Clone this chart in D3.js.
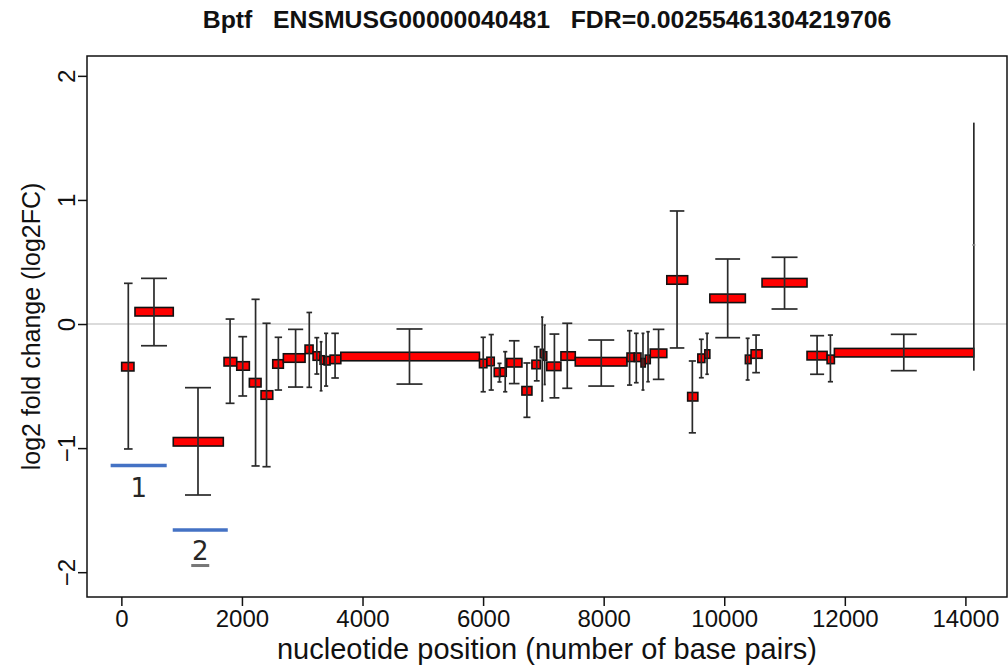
<!DOCTYPE html>
<html>
<head>
<meta charset="utf-8">
<script src="https://cdn.jsdelivr.net/npm/d3@7"></script>
<style>
body { margin: 0; background: #fff; }
text { font-family: "Liberation Sans", Arial, Helvetica, sans-serif; fill: #111; }
</style>
</head>
<body>
<svg id="chart" width="1008" height="666"></svg>
<script>
// exon counting bins: start / end (bp), position of the error bar, log2FC and its interval
var exonStart = [5, 226, 861, 1703, 1914, 2123, 2317, 2511, 2687, 3047, 3180, 3296, 3363, 3462, 3640,
  5940, 6063, 6185, 6284, 6392, 6644, 6810, 6948, 7006, 7056, 7291, 7529, 8387, 8508, 8619, 8690,
  8773, 9047, 9393, 9562, 9678, 9761, 10350, 10445, 10627, 11373, 11706, 11827, 14140];
var exonEnd = [209, 861, 1691, 1914, 2123, 2317, 2511, 2687, 3047, 3180, 3296, 3363, 3462, 3640, 5940,
  6063, 6185, 6284, 6384, 6644, 6810, 6948, 7006, 7056, 7291, 7529, 8387, 8508, 8619, 8690, 8773,
  9047, 9393, 9562, 9678, 9761, 10350, 10445, 10627, 11373, 11706, 11827, 14139, 14140];
var exonMid = [115, 541, 1271, 1803, 2013, 2226, 2408, 2604, 2890, 3117, 3242, 3313, 3396, 3545, 4779,
  6002, 6135, 6272, 6367, 6516, 6727, 6890, 6981, 7022, 7183, 7396, 7960, 8430, 8541, 8652, 8736,
  8911, 9217, 9471, 9620, 9715, 10057, 10388, 10528, 11000, 11540, 11761, 12978, 14140];
var log2fc = [-0.344, 0.099, -0.949, -0.304, -0.338, -0.473, -0.572, -0.322, -0.274, -0.204, -0.258,
  -0.290, -0.296, -0.285, -0.262, -0.318, -0.302, -0.389, -0.387, -0.312, -0.538, -0.326, -0.238,
  -0.258, -0.341, -0.258, -0.304, -0.268, -0.268, -0.312, -0.285, -0.236, 0.355, -0.586, -0.276,
  -0.242, 0.207, -0.285, -0.242, 0.333, -0.255, -0.285, -0.231, 0.637];
var ciHigh = [0.328, 0.368, -0.513, 0.040, -0.102, 0.199, 0.006, -0.107, -0.043, 0.093, -0.110,
  -0.143, -0.075, -0.075, -0.040, -0.107, -0.085, -0.317, -0.223, -0.135, -0.314, -0.183, 0.056,
  -0.008, -0.081, 0.006, -0.129, -0.054, -0.075, -0.075, -0.062, -0.043, 0.911, -0.298, -0.123,
  -0.075, 0.524, -0.115, -0.089, 0.538, -0.094, -0.089, -0.083, 1.623];
var ciLow = [-1.007, -0.175, -1.378, -0.639, -0.580, -1.144, -1.150, -0.532, -0.508, -0.510, -0.403,
  -0.538, -0.500, -0.435, -0.484, -0.546, -0.532, -0.467, -0.546, -0.480, -0.752, -0.458, -0.620,
  -0.488, -0.595, -0.518, -0.500, -0.492, -0.473, -0.532, -0.465, -0.446, -0.193, -0.877, -0.433,
  -0.405, -0.110, -0.451, -0.392, 0.121, -0.405, -0.465, -0.376, -0.376];

var xTicks = [0, 2000, 4000, 6000, 8000, 10000, 12000, 14000];
var yTicks = [-2, -1, 0, 1, 2];

// hand drawn region marks (bp range, log2FC level, label)
var regionLabels = ["1", "2"];
var regionStart = [-178, 852];
var regionEnd = [752, 1765];
var regionLevel = [-1.14, -1.66];
var labelLevel = [-1.394, -1.902];

var svg = d3.select("#chart");
var plotL = 87, plotR = 1007, plotT = 56, plotB = 597;

var x = d3.scaleLinear().domain([-570, 14690]).range([plotL, plotR]);
var y = d3.scaleLinear().domain([-2.2, 2.16]).range([plotB, plotT]);

// title
svg.append("text")
  .attr("x", (plotL + plotR) / 2)
  .attr("y", 28)
  .attr("text-anchor", "middle")
  .style("white-space", "pre")
  .style("font-weight", "bold")
  .style("font-size", "24.8px")
  .text("Bptf   ENSMUSG00000040481   FDR=0.00255461304219706");

// zero line
svg.append("line")
  .attr("x1", plotL).attr("x2", plotR)
  .attr("y1", y(0)).attr("y2", y(0))
  .attr("stroke", "#cfcfcf")
  .attr("stroke-width", 1.5);

var idx = d3.range(log2fc.length);
var barH = 8.5;

// exon bars
svg.append("g").selectAll("rect")
  .data(idx.filter(function(i) { return exonEnd[i] > exonStart[i]; }))
  .join("rect")
  .attr("x", function(i) { return x(exonStart[i]); })
  .attr("width", function(i) { return x(exonEnd[i]) - x(exonStart[i]); })
  .attr("y", function(i) { return y(log2fc[i]) - barH / 2; })
  .attr("height", barH)
  .attr("fill", "#ff0000")
  .attr("stroke", "#111")
  .attr("stroke-width", 1.6);

// error bars
var eb = svg.append("g")
  .attr("stroke", "#2a2a2a")
  .attr("stroke-width", 1.7)
  .selectAll("g")
  .data(idx)
  .join("g");

eb.append("line")
  .attr("x1", function(i) { return x(exonMid[i]); })
  .attr("x2", function(i) { return x(exonMid[i]); })
  .attr("y1", function(i) { return y(ciHigh[i]); })
  .attr("y2", function(i) { return y(ciLow[i]); });

function capHalf(i) {
  var w = x(exonEnd[i]) - x(exonStart[i]);
  return Math.min(w * 0.7, 26) / 2;
}
["hi", "lo"].forEach(function(k) {
  eb.append("line")
    .attr("x1", function(i) { return x(exonMid[i]) - capHalf(i); })
    .attr("x2", function(i) { return x(exonMid[i]) + capHalf(i); })
    .attr("y1", function(i) { return y(k == "hi" ? ciHigh[i] : ciLow[i]); })
    .attr("y2", function(i) { return y(k == "hi" ? ciHigh[i] : ciLow[i]); });
});
// point marker for the zero width bin
eb.filter(function(i) { return exonEnd[i] == exonStart[i]; })
  .append("line")
  .attr("x1", function(i) { return x(exonMid[i]) - 1.5; })
  .attr("x2", function(i) { return x(exonMid[i]) + 1.5; })
  .attr("y1", function(i) { return y(log2fc[i]); })
  .attr("y2", function(i) { return y(log2fc[i]); })
  .attr("stroke", "#888");

// axes
var xAxis = svg.append("g")
  .attr("transform", "translate(0," + plotB + ")")
  .call(d3.axisBottom(x).tickValues(xTicks).tickSize(9).tickPadding(4).tickFormat(d3.format("d")));
xAxis.select(".domain").remove();
xAxis.selectAll(".tick line").attr("stroke", "#111").attr("stroke-width", 1.5);
xAxis.selectAll("text").style("font-size", "24px").style("font-family", "Liberation Sans, Arial, sans-serif").attr("fill", "#111");

var yAxis = svg.append("g")
  .attr("transform", "translate(" + plotL + ",0)")
  .call(d3.axisLeft(y).tickValues(yTicks).tickSize(9).tickFormat(d3.format("d")));
yAxis.select(".domain").remove();
yAxis.selectAll(".tick line").attr("stroke", "#111").attr("stroke-width", 1.5);
yAxis.selectAll("text")
  .attr("x", null).attr("dy", null)
  .attr("transform", "translate(-12,0) rotate(-90)")
  .attr("text-anchor", "middle")
  .attr("fill", "#111")
  .style("font-size", "24px")
  .style("font-family", "Liberation Sans, Arial, sans-serif");

// frame
svg.append("rect")
  .attr("x", plotL).attr("y", plotT)
  .attr("width", plotR - plotL).attr("height", plotB - plotT)
  .attr("fill", "none")
  .attr("stroke", "#111")
  .attr("stroke-width", 1.5);

// axis titles
svg.append("text")
  .attr("x", (plotL + plotR) / 2)
  .attr("y", 659)
  .attr("text-anchor", "middle")
  .style("font-size", "29px")
  .text("nucleotide position (number of base pairs)");

svg.append("text")
  .attr("transform", "translate(40," + (plotT + plotB) / 2 + ") rotate(-90)")
  .attr("text-anchor", "middle")
  .style("font-size", "25px")
  .text("log2 fold change (log2FC)");

// region marks
var reg = svg.append("g").selectAll("g").data(d3.range(regionLabels.length)).join("g");
reg.append("line")
  .attr("x1", function(i) { return x(regionStart[i]); })
  .attr("x2", function(i) { return x(regionEnd[i]); })
  .attr("y1", function(i) { return y(regionLevel[i]); })
  .attr("y2", function(i) { return y(regionLevel[i]); })
  .attr("stroke", "#4472c4")
  .attr("stroke-width", 3.5);
reg.append("text")
  .attr("x", function(i) { return (x(regionStart[i]) + x(regionEnd[i])) / 2; })
  .attr("y", function(i) { return y(labelLevel[i]); })
  .attr("text-anchor", "middle")
  .style("font-family", "DejaVu Sans, sans-serif")
  .style("font-size", "26px")
  .style("fill", "#262626")
  .text(function(i) { return regionLabels[i]; });
// little underline under the second label
reg.filter(function(i) { return i == 1; })
  .append("rect")
  .attr("x", function(i) { return (x(regionStart[i]) + x(regionEnd[i])) / 2 - 9; })
  .attr("y", function(i) { return y(labelLevel[i]) + 4; })
  .attr("width", 18).attr("height", 3)
  .attr("fill", "#777");
</script>
</body>
</html>
